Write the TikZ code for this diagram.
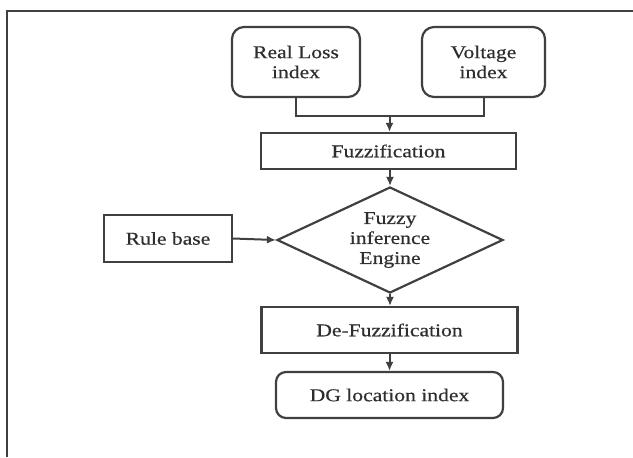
\documentclass[tikz,border=0pt]{standalone}
\usepackage{fontspec}
\setmainfont{Liberation Serif}[FakeStretch=1.2,FakeBold=0.5]
\usetikzlibrary{arrows.meta,shapes.geometric}
\definecolor{inkgray}{HTML}{2E2E2E}
\definecolor{linegray}{HTML}{404040}
\tikzset{
  blk/.style = {
    draw=linegray, line width=1.1pt, text=inkgray, align=center,
    inner sep=0pt, font=\fontsize{9}{10}\selectfont
  },
  rbox/.style = {blk, rounded corners=6pt},
  decision/.style = {blk, diamond, aspect=2.1},
  flow/.style = {draw=linegray, line width=1pt},
  arr/.style = {flow, -{Latex[length=4.5pt,width=4pt]}},
}

\begin{document}
\begin{tikzpicture}[x=0.5pt,y=-0.5pt]
  \useasboundingbox (0,0) rectangle (633,457);
  % frame
  \draw[linegray, line width=1.2pt] (633,11) -- (7,11) -- (7,457);
  % inputs
  \node[rbox, minimum width=64pt, minimum height=35pt] (loss) at (296,62) {Real Loss\\index};
  \node[rbox, minimum width=61.5pt, minimum height=35pt] (volt) at (483.5,62) {Voltage\\index};
  \coordinate (join) at (389.5,116);
  \draw[flow] (loss.south) |- (join) -| (volt.south);
  % fuzzy system
  \node[blk, minimum width=127.5pt, minimum height=18pt] (fuzz) at (388.5,151) {Fuzzification};
  \node[decision, minimum width=113pt, minimum height=53pt] (engine) at (390,240) {Fuzzy\\inference\\Engine};
  \node[blk, minimum width=64pt, minimum height=23.5pt] (rule) at (168,238.5) {Rule base};
  \node[blk, minimum width=128pt, minimum height=23pt] (defuzz) at (389.5,330) {De-Fuzzification};
  \node[rbox, rounded corners=5pt, minimum width=113.5pt, minimum height=23pt] (dg) at (389.5,395) {DG location index};
  % arrows
  \draw[arr] (join) -- (join |- fuzz.north);
  \draw[arr] (fuzz.south -| engine.north) -- (engine.north);
  \draw[arr] (rule.east) -- (engine.west);
  \draw[arr] (engine.south) -- (engine.south |- defuzz.north);
  \draw[arr] (defuzz.south -| dg.north) -- (dg.north);
\end{tikzpicture}
\end{document}
